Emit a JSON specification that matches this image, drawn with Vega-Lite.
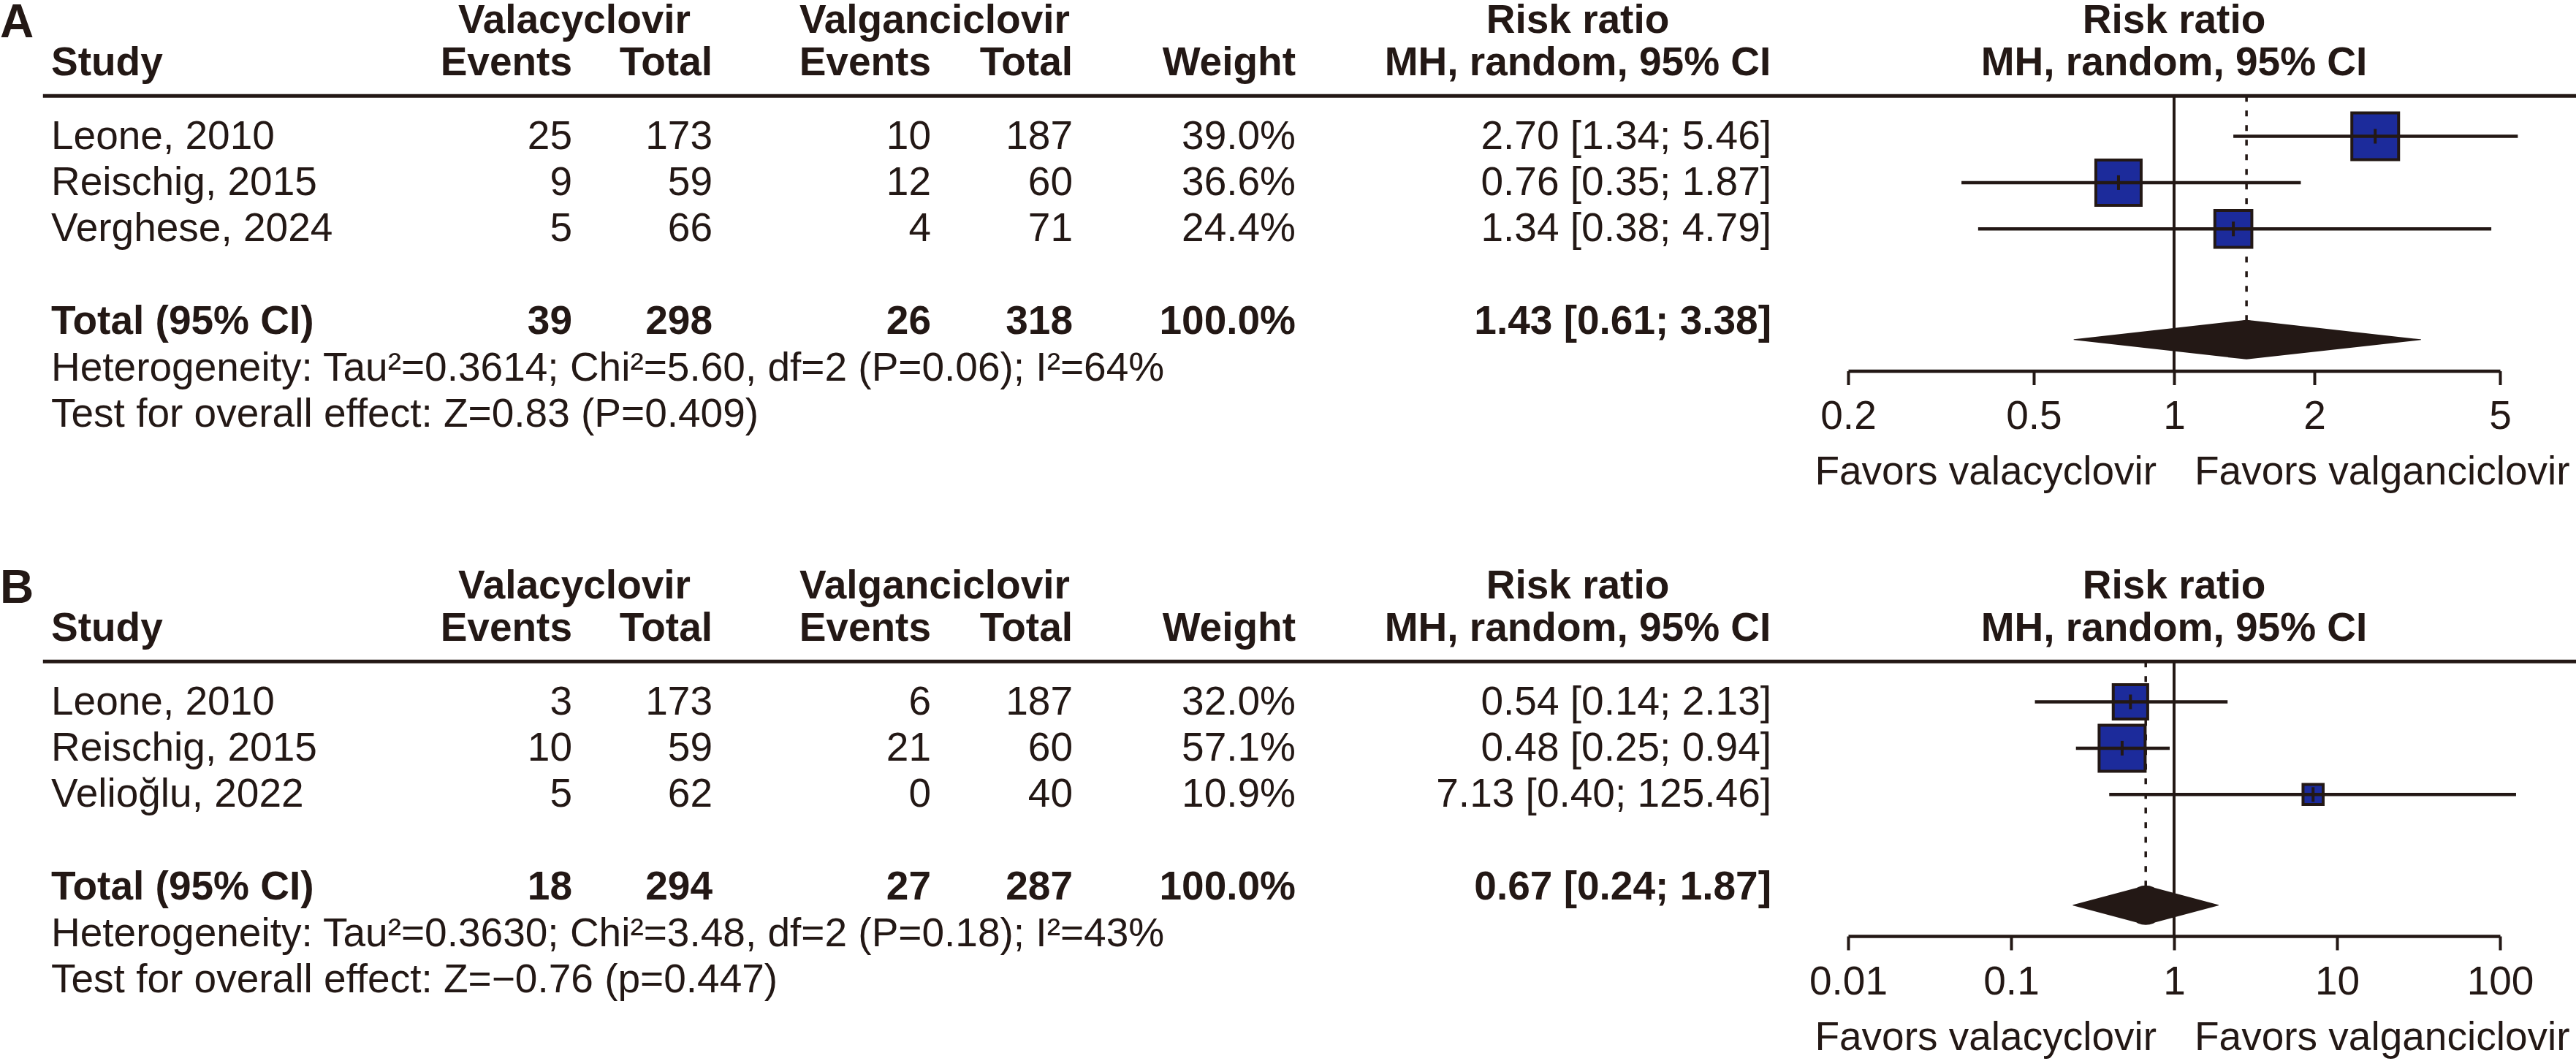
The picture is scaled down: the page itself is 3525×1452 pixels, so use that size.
{
  "$schema": "https://vega.github.io/schema/vega-lite/v6.json",
  "padding": 0,
  "background": "white",
  "spacing": 0,
  "bounds": "flush",
  "config": {
    "view": {"stroke": null},
    "text": {"font": "Liberation Sans", "fontSize": 55, "color": "#231815", "baseline": "middle"},
    "rule": {"color": "#231815"}
  },
  "datasets": {
    "rows": [
      {"panel": "A", "kind": "study", "line": 1, "study": "Leone, 2010", "e1": 25, "n1": 173, "e2": 10, "n2": 187, "weight": 0.390, "rr": 2.70, "lo": 1.34, "hi": 5.46, "ci": "2.70 [1.34; 5.46]"},
      {"panel": "A", "kind": "study", "line": 2, "study": "Reischig, 2015", "e1": 9, "n1": 59, "e2": 12, "n2": 60, "weight": 0.366, "rr": 0.76, "lo": 0.35, "hi": 1.87, "ci": "0.76 [0.35; 1.87]"},
      {"panel": "A", "kind": "study", "line": 3, "study": "Verghese, 2024", "e1": 5, "n1": 66, "e2": 4, "n2": 71, "weight": 0.244, "rr": 1.34, "lo": 0.38, "hi": 4.79, "ci": "1.34 [0.38; 4.79]"},
      {"panel": "A", "kind": "total", "line": 5, "study": "Total (95% CI)", "e1": 39, "n1": 298, "e2": 26, "n2": 318, "weight": 1.0, "rr": 1.43, "lo": 0.61, "hi": 3.38, "ci": "1.43 [0.61; 3.38]"},
      {"panel": "B", "kind": "study", "line": 1, "study": "Leone, 2010", "e1": 3, "n1": 173, "e2": 6, "n2": 187, "weight": 0.320, "rr": 0.54, "lo": 0.14, "hi": 2.13, "ci": "0.54 [0.14; 2.13]"},
      {"panel": "B", "kind": "study", "line": 2, "study": "Reischig, 2015", "e1": 10, "n1": 59, "e2": 21, "n2": 60, "weight": 0.571, "rr": 0.48, "lo": 0.25, "hi": 0.94, "ci": "0.48 [0.25; 0.94]"},
      {"panel": "B", "kind": "study", "line": 3, "study": "Velioğlu, 2022", "e1": 5, "n1": 62, "e2": 0, "n2": 40, "weight": 0.109, "rr": 7.13, "lo": 0.40, "hi": 125.46, "ci": "7.13 [0.40; 125.46]"},
      {"panel": "B", "kind": "total", "line": 5, "study": "Total (95% CI)", "e1": 18, "n1": 294, "e2": 27, "n2": 287, "weight": 1.0, "rr": 0.67, "lo": 0.24, "hi": 1.87, "ci": "0.67 [0.24; 1.87]"}
    ],
    "notes": [
      {"panel": "A", "line": 6, "note": "Heterogeneity: Tau²=0.3614; Chi²=5.60, df=2 (P=0.06); I²=64%"},
      {"panel": "A", "line": 7, "note": "Test for overall effect: Z=0.83 (P=0.409)"},
      {"panel": "B", "line": 6, "note": "Heterogeneity: Tau²=0.3630; Chi²=3.48, df=2 (P=0.18); I²=43%"},
      {"panel": "B", "line": 7, "note": "Test for overall effect: Z=−0.76 (p=0.447)"}
    ]
  },
  "resolve": {"scale": {"x": "independent", "y": "independent", "size": "independent"}},
  "vconcat": [
    {
      "width": 3525,
      "height": 774,
      "data": {"name": "rows"},
      "resolve": {"scale": {"x": "independent"}},
      "layer": [
        {
          "layer": [
            {"data": {"values": [{}]}, "mark": {"type": "text", "text": "A", "align": "left", "fontSize": 64, "fontWeight": "bold"},
             "encoding": {"x": {"datum": 0, "type": "quantitative", "scale": {"domain": [0,1,2,2.5,3,4,4.5,5,6,6.5,7,8], "range": [0,70,783,786,975,1274,1279,1468,1773,2159,2424,3525], "nice": false, "zero": false}, "axis": null},
                          "y": {"datum": -1.43, "type": "quantitative", "scale": {"domain": [-1.9259, 10.2823], "reverse": true, "nice": false, "zero": false}, "axis": null}}},
            {"data": {"values": [{}]}, "mark": {"type": "text", "text": "Valacyclovir", "align": "center", "fontWeight": "bold"},
             "encoding": {"x": {"datum": 2.5, "type": "quantitative", "scale": {"domain": [0,1,2,2.5,3,4,4.5,5,6,6.5,7,8], "range": [0,70,783,786,975,1274,1279,1468,1773,2159,2424,3525], "nice": false, "zero": false}, "axis": null},
                          "y": {"datum": -1.5, "type": "quantitative", "scale": {"domain": [-1.9259, 10.2823], "reverse": true, "nice": false, "zero": false}, "axis": null}}},
            {"data": {"values": [{}]}, "mark": {"type": "text", "text": "Valganciclovir", "align": "center", "fontWeight": "bold"},
             "encoding": {"x": {"datum": 4.5, "type": "quantitative", "scale": {"domain": [0,1,2,2.5,3,4,4.5,5,6,6.5,7,8], "range": [0,70,783,786,975,1274,1279,1468,1773,2159,2424,3525], "nice": false, "zero": false}, "axis": null},
                          "y": {"datum": -1.5, "type": "quantitative", "scale": {"domain": [-1.9259, 10.2823], "reverse": true, "nice": false, "zero": false}, "axis": null}}},
            {"data": {"values": [{}]}, "mark": {"type": "text", "text": "Risk ratio", "align": "center", "fontWeight": "bold"},
             "encoding": {"x": {"datum": 6.5, "type": "quantitative", "scale": {"domain": [0,1,2,2.5,3,4,4.5,5,6,6.5,7,8], "range": [0,70,783,786,975,1274,1279,1468,1773,2159,2424,3525], "nice": false, "zero": false}, "axis": null},
                          "y": {"datum": -1.5, "type": "quantitative", "scale": {"domain": [-1.9259, 10.2823], "reverse": true, "nice": false, "zero": false}, "axis": null}}},
            {"data": {"values": [{}]}, "mark": {"type": "text", "text": "Study", "align": "left", "fontWeight": "bold"},
             "encoding": {"x": {"datum": 1, "type": "quantitative", "scale": {"domain": [0,1,2,2.5,3,4,4.5,5,6,6.5,7,8], "range": [0,70,783,786,975,1274,1279,1468,1773,2159,2424,3525], "nice": false, "zero": false}, "axis": null},
                          "y": {"datum": -0.58, "type": "quantitative", "scale": {"domain": [-1.9259, 10.2823], "reverse": true, "nice": false, "zero": false}, "axis": null}}},
            {"data": {"values": [{}]}, "mark": {"type": "text", "text": "Events", "align": "right", "fontWeight": "bold"},
             "encoding": {"x": {"datum": 2, "type": "quantitative", "scale": {"domain": [0,1,2,2.5,3,4,4.5,5,6,6.5,7,8], "range": [0,70,783,786,975,1274,1279,1468,1773,2159,2424,3525], "nice": false, "zero": false}, "axis": null},
                          "y": {"datum": -0.58, "type": "quantitative", "scale": {"domain": [-1.9259, 10.2823], "reverse": true, "nice": false, "zero": false}, "axis": null}}},
            {"data": {"values": [{}]}, "mark": {"type": "text", "text": "Total", "align": "right", "fontWeight": "bold"},
             "encoding": {"x": {"datum": 3, "type": "quantitative", "scale": {"domain": [0,1,2,2.5,3,4,4.5,5,6,6.5,7,8], "range": [0,70,783,786,975,1274,1279,1468,1773,2159,2424,3525], "nice": false, "zero": false}, "axis": null},
                          "y": {"datum": -0.58, "type": "quantitative", "scale": {"domain": [-1.9259, 10.2823], "reverse": true, "nice": false, "zero": false}, "axis": null}}},
            {"data": {"values": [{}]}, "mark": {"type": "text", "text": "Events", "align": "right", "fontWeight": "bold"},
             "encoding": {"x": {"datum": 4, "type": "quantitative", "scale": {"domain": [0,1,2,2.5,3,4,4.5,5,6,6.5,7,8], "range": [0,70,783,786,975,1274,1279,1468,1773,2159,2424,3525], "nice": false, "zero": false}, "axis": null},
                          "y": {"datum": -0.58, "type": "quantitative", "scale": {"domain": [-1.9259, 10.2823], "reverse": true, "nice": false, "zero": false}, "axis": null}}},
            {"data": {"values": [{}]}, "mark": {"type": "text", "text": "Total", "align": "right", "fontWeight": "bold"},
             "encoding": {"x": {"datum": 5, "type": "quantitative", "scale": {"domain": [0,1,2,2.5,3,4,4.5,5,6,6.5,7,8], "range": [0,70,783,786,975,1274,1279,1468,1773,2159,2424,3525], "nice": false, "zero": false}, "axis": null},
                          "y": {"datum": -0.58, "type": "quantitative", "scale": {"domain": [-1.9259, 10.2823], "reverse": true, "nice": false, "zero": false}, "axis": null}}},
            {"data": {"values": [{}]}, "mark": {"type": "text", "text": "Weight", "align": "right", "fontWeight": "bold"},
             "encoding": {"x": {"datum": 6, "type": "quantitative", "scale": {"domain": [0,1,2,2.5,3,4,4.5,5,6,6.5,7,8], "range": [0,70,783,786,975,1274,1279,1468,1773,2159,2424,3525], "nice": false, "zero": false}, "axis": null},
                          "y": {"datum": -0.58, "type": "quantitative", "scale": {"domain": [-1.9259, 10.2823], "reverse": true, "nice": false, "zero": false}, "axis": null}}},
            {"data": {"values": [{}]}, "mark": {"type": "text", "text": "MH, random, 95% CI", "align": "center", "fontWeight": "bold"},
             "encoding": {"x": {"datum": 6.5, "type": "quantitative", "scale": {"domain": [0,1,2,2.5,3,4,4.5,5,6,6.5,7,8], "range": [0,70,783,786,975,1274,1279,1468,1773,2159,2424,3525], "nice": false, "zero": false}, "axis": null},
                          "y": {"datum": -0.58, "type": "quantitative", "scale": {"domain": [-1.9259, 10.2823], "reverse": true, "nice": false, "zero": false}, "axis": null}}},
            {"data": {"values": [{}]}, "mark": {"type": "rule", "strokeWidth": 5},
             "encoding": {"x": {"datum": 0.84, "type": "quantitative", "scale": {"domain": [0,1,2,2.5,3,4,4.5,5,6,6.5,7,8], "range": [0,70,783,786,975,1274,1279,1468,1773,2159,2424,3525], "nice": false, "zero": false}, "axis": null},
                          "x2": {"datum": 8},
                          "y": {"datum": 0.13, "type": "quantitative", "scale": {"domain": [-1.9259, 10.2823], "reverse": true, "nice": false, "zero": false}, "axis": null}}},
            {"transform": [{"filter": "datum.panel === 'A' && datum.kind === 'study'"}], "mark": {"type": "text", "align": "left"},
             "encoding": {"x": {"datum": 1, "type": "quantitative", "scale": {"domain": [0,1,2,2.5,3,4,4.5,5,6,6.5,7,8], "range": [0,70,783,786,975,1274,1279,1468,1773,2159,2424,3525], "nice": false, "zero": false}, "axis": null},
                          "y": {"field": "line", "type": "quantitative", "scale": {"domain": [-1.9259, 10.2823], "reverse": true, "nice": false, "zero": false}, "axis": null},
                          "text": {"field": "study", "type": "nominal"}}},
            {"transform": [{"filter": "datum.panel === 'A' && datum.kind === 'study'"}], "mark": {"type": "text", "align": "right"},
             "encoding": {"x": {"datum": 2, "type": "quantitative", "scale": {"domain": [0,1,2,2.5,3,4,4.5,5,6,6.5,7,8], "range": [0,70,783,786,975,1274,1279,1468,1773,2159,2424,3525], "nice": false, "zero": false}, "axis": null},
                          "y": {"field": "line", "type": "quantitative", "scale": {"domain": [-1.9259, 10.2823], "reverse": true, "nice": false, "zero": false}, "axis": null},
                          "text": {"field": "e1", "type": "quantitative", "format": "d"}}},
            {"transform": [{"filter": "datum.panel === 'A' && datum.kind === 'study'"}], "mark": {"type": "text", "align": "right"},
             "encoding": {"x": {"datum": 3, "type": "quantitative", "scale": {"domain": [0,1,2,2.5,3,4,4.5,5,6,6.5,7,8], "range": [0,70,783,786,975,1274,1279,1468,1773,2159,2424,3525], "nice": false, "zero": false}, "axis": null},
                          "y": {"field": "line", "type": "quantitative", "scale": {"domain": [-1.9259, 10.2823], "reverse": true, "nice": false, "zero": false}, "axis": null},
                          "text": {"field": "n1", "type": "quantitative", "format": "d"}}},
            {"transform": [{"filter": "datum.panel === 'A' && datum.kind === 'study'"}], "mark": {"type": "text", "align": "right"},
             "encoding": {"x": {"datum": 4, "type": "quantitative", "scale": {"domain": [0,1,2,2.5,3,4,4.5,5,6,6.5,7,8], "range": [0,70,783,786,975,1274,1279,1468,1773,2159,2424,3525], "nice": false, "zero": false}, "axis": null},
                          "y": {"field": "line", "type": "quantitative", "scale": {"domain": [-1.9259, 10.2823], "reverse": true, "nice": false, "zero": false}, "axis": null},
                          "text": {"field": "e2", "type": "quantitative", "format": "d"}}},
            {"transform": [{"filter": "datum.panel === 'A' && datum.kind === 'study'"}], "mark": {"type": "text", "align": "right"},
             "encoding": {"x": {"datum": 5, "type": "quantitative", "scale": {"domain": [0,1,2,2.5,3,4,4.5,5,6,6.5,7,8], "range": [0,70,783,786,975,1274,1279,1468,1773,2159,2424,3525], "nice": false, "zero": false}, "axis": null},
                          "y": {"field": "line", "type": "quantitative", "scale": {"domain": [-1.9259, 10.2823], "reverse": true, "nice": false, "zero": false}, "axis": null},
                          "text": {"field": "n2", "type": "quantitative", "format": "d"}}},
            {"transform": [{"filter": "datum.panel === 'A' && datum.kind === 'study'"}], "mark": {"type": "text", "align": "right"},
             "encoding": {"x": {"datum": 6, "type": "quantitative", "scale": {"domain": [0,1,2,2.5,3,4,4.5,5,6,6.5,7,8], "range": [0,70,783,786,975,1274,1279,1468,1773,2159,2424,3525], "nice": false, "zero": false}, "axis": null},
                          "y": {"field": "line", "type": "quantitative", "scale": {"domain": [-1.9259, 10.2823], "reverse": true, "nice": false, "zero": false}, "axis": null},
                          "text": {"field": "weight", "type": "quantitative", "format": ".1%"}}},
            {"transform": [{"filter": "datum.panel === 'A' && datum.kind === 'study'"}], "mark": {"type": "text", "align": "right"},
             "encoding": {"x": {"datum": 7, "type": "quantitative", "scale": {"domain": [0,1,2,2.5,3,4,4.5,5,6,6.5,7,8], "range": [0,70,783,786,975,1274,1279,1468,1773,2159,2424,3525], "nice": false, "zero": false}, "axis": null},
                          "y": {"field": "line", "type": "quantitative", "scale": {"domain": [-1.9259, 10.2823], "reverse": true, "nice": false, "zero": false}, "axis": null},
                          "text": {"field": "ci", "type": "nominal"}}},
            {"transform": [{"filter": "datum.panel === 'A' && datum.kind === 'total'"}], "mark": {"type": "text", "align": "left", "fontWeight": "bold"},
             "encoding": {"x": {"datum": 1, "type": "quantitative", "scale": {"domain": [0,1,2,2.5,3,4,4.5,5,6,6.5,7,8], "range": [0,70,783,786,975,1274,1279,1468,1773,2159,2424,3525], "nice": false, "zero": false}, "axis": null},
                          "y": {"field": "line", "type": "quantitative", "scale": {"domain": [-1.9259, 10.2823], "reverse": true, "nice": false, "zero": false}, "axis": null},
                          "text": {"field": "study", "type": "nominal"}}},
            {"transform": [{"filter": "datum.panel === 'A' && datum.kind === 'total'"}], "mark": {"type": "text", "align": "right", "fontWeight": "bold"},
             "encoding": {"x": {"datum": 2, "type": "quantitative", "scale": {"domain": [0,1,2,2.5,3,4,4.5,5,6,6.5,7,8], "range": [0,70,783,786,975,1274,1279,1468,1773,2159,2424,3525], "nice": false, "zero": false}, "axis": null},
                          "y": {"field": "line", "type": "quantitative", "scale": {"domain": [-1.9259, 10.2823], "reverse": true, "nice": false, "zero": false}, "axis": null},
                          "text": {"field": "e1", "type": "quantitative", "format": "d"}}},
            {"transform": [{"filter": "datum.panel === 'A' && datum.kind === 'total'"}], "mark": {"type": "text", "align": "right", "fontWeight": "bold"},
             "encoding": {"x": {"datum": 3, "type": "quantitative", "scale": {"domain": [0,1,2,2.5,3,4,4.5,5,6,6.5,7,8], "range": [0,70,783,786,975,1274,1279,1468,1773,2159,2424,3525], "nice": false, "zero": false}, "axis": null},
                          "y": {"field": "line", "type": "quantitative", "scale": {"domain": [-1.9259, 10.2823], "reverse": true, "nice": false, "zero": false}, "axis": null},
                          "text": {"field": "n1", "type": "quantitative", "format": "d"}}},
            {"transform": [{"filter": "datum.panel === 'A' && datum.kind === 'total'"}], "mark": {"type": "text", "align": "right", "fontWeight": "bold"},
             "encoding": {"x": {"datum": 4, "type": "quantitative", "scale": {"domain": [0,1,2,2.5,3,4,4.5,5,6,6.5,7,8], "range": [0,70,783,786,975,1274,1279,1468,1773,2159,2424,3525], "nice": false, "zero": false}, "axis": null},
                          "y": {"field": "line", "type": "quantitative", "scale": {"domain": [-1.9259, 10.2823], "reverse": true, "nice": false, "zero": false}, "axis": null},
                          "text": {"field": "e2", "type": "quantitative", "format": "d"}}},
            {"transform": [{"filter": "datum.panel === 'A' && datum.kind === 'total'"}], "mark": {"type": "text", "align": "right", "fontWeight": "bold"},
             "encoding": {"x": {"datum": 5, "type": "quantitative", "scale": {"domain": [0,1,2,2.5,3,4,4.5,5,6,6.5,7,8], "range": [0,70,783,786,975,1274,1279,1468,1773,2159,2424,3525], "nice": false, "zero": false}, "axis": null},
                          "y": {"field": "line", "type": "quantitative", "scale": {"domain": [-1.9259, 10.2823], "reverse": true, "nice": false, "zero": false}, "axis": null},
                          "text": {"field": "n2", "type": "quantitative", "format": "d"}}},
            {"transform": [{"filter": "datum.panel === 'A' && datum.kind === 'total'"}], "mark": {"type": "text", "align": "right", "fontWeight": "bold"},
             "encoding": {"x": {"datum": 6, "type": "quantitative", "scale": {"domain": [0,1,2,2.5,3,4,4.5,5,6,6.5,7,8], "range": [0,70,783,786,975,1274,1279,1468,1773,2159,2424,3525], "nice": false, "zero": false}, "axis": null},
                          "y": {"field": "line", "type": "quantitative", "scale": {"domain": [-1.9259, 10.2823], "reverse": true, "nice": false, "zero": false}, "axis": null},
                          "text": {"field": "weight", "type": "quantitative", "format": ".1%"}}},
            {"transform": [{"filter": "datum.panel === 'A' && datum.kind === 'total'"}], "mark": {"type": "text", "align": "right", "fontWeight": "bold"},
             "encoding": {"x": {"datum": 7, "type": "quantitative", "scale": {"domain": [0,1,2,2.5,3,4,4.5,5,6,6.5,7,8], "range": [0,70,783,786,975,1274,1279,1468,1773,2159,2424,3525], "nice": false, "zero": false}, "axis": null},
                          "y": {"field": "line", "type": "quantitative", "scale": {"domain": [-1.9259, 10.2823], "reverse": true, "nice": false, "zero": false}, "axis": null},
                          "text": {"field": "ci", "type": "nominal"}}},
            {"data": {"name": "notes"}, "transform": [{"filter": "datum.panel === 'A'"}], "mark": {"type": "text", "align": "left"},
             "encoding": {"x": {"datum": 1, "type": "quantitative", "scale": {"domain": [0,1,2,2.5,3,4,4.5,5,6,6.5,7,8], "range": [0,70,783,786,975,1274,1279,1468,1773,2159,2424,3525], "nice": false, "zero": false}, "axis": null},
                          "y": {"field": "line", "type": "quantitative", "scale": {"domain": [-1.9259, 10.2823], "reverse": true, "nice": false, "zero": false}, "axis": null},
                          "text": {"field": "note", "type": "nominal"}}}
          ]
        },
        {
          "layer": [
            {"data": {"values": [{}]}, "mark": {"type": "text", "text": "Risk ratio", "align": "center", "fontWeight": "bold"},
             "encoding": {"x": {"datum": 1, "type": "quantitative", "scale": {"type": "log", "domain": [0.2, 5], "range": [2529, 3421], "nice": false}},
                          "y": {"datum": -1.5, "type": "quantitative", "scale": {"domain": [-1.9259, 10.2823], "reverse": true, "nice": false, "zero": false}, "axis": null}}},
            {"data": {"values": [{}]}, "mark": {"type": "text", "text": "MH, random, 95% CI", "align": "center", "fontWeight": "bold"},
             "encoding": {"x": {"datum": 1, "type": "quantitative", "scale": {"type": "log", "domain": [0.2, 5], "range": [2529, 3421], "nice": false}},
                          "y": {"datum": -0.58, "type": "quantitative", "scale": {"domain": [-1.9259, 10.2823], "reverse": true, "nice": false, "zero": false}, "axis": null}}},
            {"data": {"values": [{}]}, "mark": {"type": "rule", "strokeWidth": 4},
             "encoding": {"x": {"datum": 1, "type": "quantitative", "scale": {"type": "log", "domain": [0.2, 5], "range": [2529, 3421], "nice": false}},
                          "y": {"datum": 0.13, "type": "quantitative", "scale": {"domain": [-1.9259, 10.2823], "reverse": true, "nice": false, "zero": false}, "axis": null},
                          "y2": {"datum": 6.06}}},
            {"transform": [{"filter": "datum.panel === 'A' && datum.kind === 'total'"}], "mark": {"type": "rule", "strokeWidth": 3.5, "strokeDash": [8, 12]},
             "encoding": {"x": {"field": "rr", "type": "quantitative", "scale": {"type": "log", "domain": [0.2, 5], "range": [2529, 3421], "nice": false}},
                          "y": {"datum": 0.13, "type": "quantitative", "scale": {"domain": [-1.9259, 10.2823], "reverse": true, "nice": false, "zero": false}, "axis": null},
                          "y2": {"datum": 4.97}}},
            {"transform": [{"filter": "datum.panel === 'A' && datum.kind === 'study'"}], "mark": {"type": "point", "shape": "square", "filled": true, "fill": "#1c2b9b", "stroke": "#231815", "strokeWidth": 4, "opacity": 1},
             "encoding": {"x": {"field": "rr", "type": "quantitative", "scale": {"type": "log", "domain": [0.2, 5], "range": [2529, 3421], "nice": false}},
                          "y": {"field": "line", "type": "quantitative", "scale": {"domain": [-1.9259, 10.2823], "reverse": true, "nice": false, "zero": false}, "axis": null},
                          "size": {"field": "weight", "type": "quantitative", "scale": {"domain": [0, 0.39], "range": [0, 4096], "zero": true}, "legend": null}}},
            {"transform": [{"filter": "datum.panel === 'A' && datum.kind === 'study'"}], "mark": {"type": "rule", "strokeWidth": 4.5},
             "encoding": {"x": {"field": "lo", "type": "quantitative", "scale": {"type": "log", "domain": [0.2, 5], "range": [2529, 3421], "nice": false},
                                "axis": {"values": [0.2, 0.5, 1, 2, 5], "format": "~g", "orient": "bottom", "offset": -267.5, "title": null, "grid": false,
                                         "domainColor": "#231815", "domainWidth": 4.5, "tickColor": "#231815", "tickWidth": 4, "tickSize": 19,
                                         "labelFont": "Liberation Sans", "labelFontSize": 55, "labelColor": "#231815", "labelPadding": 17,
                                         "labelFlush": false, "labelOverlap": false, "labelBound": false}},
                          "x2": {"field": "hi"},
                          "y": {"field": "line", "type": "quantitative", "scale": {"domain": [-1.9259, 10.2823], "reverse": true, "nice": false, "zero": false}, "axis": null}}},
            {"transform": [{"filter": "datum.panel === 'A' && datum.kind === 'study'"}], "mark": {"type": "point", "shape": "M0,-1L0,1", "size": 400, "strokeWidth": 4, "filled": false, "color": "#231815", "opacity": 1},
             "encoding": {"x": {"field": "rr", "type": "quantitative", "scale": {"type": "log", "domain": [0.2, 5], "range": [2529, 3421], "nice": false}},
                          "y": {"field": "line", "type": "quantitative", "scale": {"domain": [-1.9259, 10.2823], "reverse": true, "nice": false, "zero": false}, "axis": null}}},
            {"transform": [{"filter": "datum.panel === 'A' && datum.kind === 'total'"}, {"fold": ["lo", "rr", "hi"], "as": ["k", "v"]}],
             "mark": {"type": "trail", "color": "#231815", "opacity": 1},
             "encoding": {"x": {"field": "v", "type": "quantitative", "scale": {"type": "log", "domain": [0.2, 5], "range": [2529, 3421], "nice": false}},
                          "y": {"datum": 5.39, "type": "quantitative", "scale": {"domain": [-1.9259, 10.2823], "reverse": true, "nice": false, "zero": false}, "axis": null},
                          "order": {"field": "v", "type": "quantitative"},
                          "size": {"condition": {"test": "datum.k === 'rr'", "value": 54}, "value": 0}}},
            {"data": {"values": [{}]}, "mark": {"type": "text", "text": "Favors valacyclovir", "align": "right", "dx": -24},
             "encoding": {"x": {"datum": 1, "type": "quantitative", "scale": {"type": "log", "domain": [0.2, 5], "range": [2529, 3421], "nice": false}},
                          "y": {"datum": 8.25, "type": "quantitative", "scale": {"domain": [-1.9259, 10.2823], "reverse": true, "nice": false, "zero": false}, "axis": null}}},
            {"data": {"values": [{}]}, "mark": {"type": "text", "text": "Favors valganciclovir", "align": "left", "dx": 28},
             "encoding": {"x": {"datum": 1, "type": "quantitative", "scale": {"type": "log", "domain": [0.2, 5], "range": [2529, 3421], "nice": false}},
                          "y": {"datum": 8.25, "type": "quantitative", "scale": {"domain": [-1.9259, 10.2823], "reverse": true, "nice": false, "zero": false}, "axis": null}}}
          ]
        }
      ]
    },
    {
      "width": 3525,
      "height": 678,
      "data": {"name": "rows"},
      "resolve": {"scale": {"x": "independent"}},
      "layer": [
        {
          "layer": [
            {"data": {"values": [{}]}, "mark": {"type": "text", "text": "B", "align": "left", "fontSize": 64, "fontWeight": "bold"},
             "encoding": {"x": {"datum": 0, "type": "quantitative", "scale": {"domain": [0,1,2,2.5,3,4,4.5,5,6,6.5,7,8], "range": [0,70,783,786,975,1274,1279,1468,1773,2159,2424,3525], "nice": false, "zero": false}, "axis": null},
                          "y": {"datum": -1.43, "type": "quantitative", "scale": {"domain": [-1.9259, 8.7681], "reverse": true, "nice": false, "zero": false}, "axis": null}}},
            {"data": {"values": [{}]}, "mark": {"type": "text", "text": "Valacyclovir", "align": "center", "fontWeight": "bold"},
             "encoding": {"x": {"datum": 2.5, "type": "quantitative", "scale": {"domain": [0,1,2,2.5,3,4,4.5,5,6,6.5,7,8], "range": [0,70,783,786,975,1274,1279,1468,1773,2159,2424,3525], "nice": false, "zero": false}, "axis": null},
                          "y": {"datum": -1.5, "type": "quantitative", "scale": {"domain": [-1.9259, 8.7681], "reverse": true, "nice": false, "zero": false}, "axis": null}}},
            {"data": {"values": [{}]}, "mark": {"type": "text", "text": "Valganciclovir", "align": "center", "fontWeight": "bold"},
             "encoding": {"x": {"datum": 4.5, "type": "quantitative", "scale": {"domain": [0,1,2,2.5,3,4,4.5,5,6,6.5,7,8], "range": [0,70,783,786,975,1274,1279,1468,1773,2159,2424,3525], "nice": false, "zero": false}, "axis": null},
                          "y": {"datum": -1.5, "type": "quantitative", "scale": {"domain": [-1.9259, 8.7681], "reverse": true, "nice": false, "zero": false}, "axis": null}}},
            {"data": {"values": [{}]}, "mark": {"type": "text", "text": "Risk ratio", "align": "center", "fontWeight": "bold"},
             "encoding": {"x": {"datum": 6.5, "type": "quantitative", "scale": {"domain": [0,1,2,2.5,3,4,4.5,5,6,6.5,7,8], "range": [0,70,783,786,975,1274,1279,1468,1773,2159,2424,3525], "nice": false, "zero": false}, "axis": null},
                          "y": {"datum": -1.5, "type": "quantitative", "scale": {"domain": [-1.9259, 8.7681], "reverse": true, "nice": false, "zero": false}, "axis": null}}},
            {"data": {"values": [{}]}, "mark": {"type": "text", "text": "Study", "align": "left", "fontWeight": "bold"},
             "encoding": {"x": {"datum": 1, "type": "quantitative", "scale": {"domain": [0,1,2,2.5,3,4,4.5,5,6,6.5,7,8], "range": [0,70,783,786,975,1274,1279,1468,1773,2159,2424,3525], "nice": false, "zero": false}, "axis": null},
                          "y": {"datum": -0.58, "type": "quantitative", "scale": {"domain": [-1.9259, 8.7681], "reverse": true, "nice": false, "zero": false}, "axis": null}}},
            {"data": {"values": [{}]}, "mark": {"type": "text", "text": "Events", "align": "right", "fontWeight": "bold"},
             "encoding": {"x": {"datum": 2, "type": "quantitative", "scale": {"domain": [0,1,2,2.5,3,4,4.5,5,6,6.5,7,8], "range": [0,70,783,786,975,1274,1279,1468,1773,2159,2424,3525], "nice": false, "zero": false}, "axis": null},
                          "y": {"datum": -0.58, "type": "quantitative", "scale": {"domain": [-1.9259, 8.7681], "reverse": true, "nice": false, "zero": false}, "axis": null}}},
            {"data": {"values": [{}]}, "mark": {"type": "text", "text": "Total", "align": "right", "fontWeight": "bold"},
             "encoding": {"x": {"datum": 3, "type": "quantitative", "scale": {"domain": [0,1,2,2.5,3,4,4.5,5,6,6.5,7,8], "range": [0,70,783,786,975,1274,1279,1468,1773,2159,2424,3525], "nice": false, "zero": false}, "axis": null},
                          "y": {"datum": -0.58, "type": "quantitative", "scale": {"domain": [-1.9259, 8.7681], "reverse": true, "nice": false, "zero": false}, "axis": null}}},
            {"data": {"values": [{}]}, "mark": {"type": "text", "text": "Events", "align": "right", "fontWeight": "bold"},
             "encoding": {"x": {"datum": 4, "type": "quantitative", "scale": {"domain": [0,1,2,2.5,3,4,4.5,5,6,6.5,7,8], "range": [0,70,783,786,975,1274,1279,1468,1773,2159,2424,3525], "nice": false, "zero": false}, "axis": null},
                          "y": {"datum": -0.58, "type": "quantitative", "scale": {"domain": [-1.9259, 8.7681], "reverse": true, "nice": false, "zero": false}, "axis": null}}},
            {"data": {"values": [{}]}, "mark": {"type": "text", "text": "Total", "align": "right", "fontWeight": "bold"},
             "encoding": {"x": {"datum": 5, "type": "quantitative", "scale": {"domain": [0,1,2,2.5,3,4,4.5,5,6,6.5,7,8], "range": [0,70,783,786,975,1274,1279,1468,1773,2159,2424,3525], "nice": false, "zero": false}, "axis": null},
                          "y": {"datum": -0.58, "type": "quantitative", "scale": {"domain": [-1.9259, 8.7681], "reverse": true, "nice": false, "zero": false}, "axis": null}}},
            {"data": {"values": [{}]}, "mark": {"type": "text", "text": "Weight", "align": "right", "fontWeight": "bold"},
             "encoding": {"x": {"datum": 6, "type": "quantitative", "scale": {"domain": [0,1,2,2.5,3,4,4.5,5,6,6.5,7,8], "range": [0,70,783,786,975,1274,1279,1468,1773,2159,2424,3525], "nice": false, "zero": false}, "axis": null},
                          "y": {"datum": -0.58, "type": "quantitative", "scale": {"domain": [-1.9259, 8.7681], "reverse": true, "nice": false, "zero": false}, "axis": null}}},
            {"data": {"values": [{}]}, "mark": {"type": "text", "text": "MH, random, 95% CI", "align": "center", "fontWeight": "bold"},
             "encoding": {"x": {"datum": 6.5, "type": "quantitative", "scale": {"domain": [0,1,2,2.5,3,4,4.5,5,6,6.5,7,8], "range": [0,70,783,786,975,1274,1279,1468,1773,2159,2424,3525], "nice": false, "zero": false}, "axis": null},
                          "y": {"datum": -0.58, "type": "quantitative", "scale": {"domain": [-1.9259, 8.7681], "reverse": true, "nice": false, "zero": false}, "axis": null}}},
            {"data": {"values": [{}]}, "mark": {"type": "rule", "strokeWidth": 5},
             "encoding": {"x": {"datum": 0.84, "type": "quantitative", "scale": {"domain": [0,1,2,2.5,3,4,4.5,5,6,6.5,7,8], "range": [0,70,783,786,975,1274,1279,1468,1773,2159,2424,3525], "nice": false, "zero": false}, "axis": null},
                          "x2": {"datum": 8},
                          "y": {"datum": 0.13, "type": "quantitative", "scale": {"domain": [-1.9259, 8.7681], "reverse": true, "nice": false, "zero": false}, "axis": null}}},
            {"transform": [{"filter": "datum.panel === 'B' && datum.kind === 'study'"}], "mark": {"type": "text", "align": "left"},
             "encoding": {"x": {"datum": 1, "type": "quantitative", "scale": {"domain": [0,1,2,2.5,3,4,4.5,5,6,6.5,7,8], "range": [0,70,783,786,975,1274,1279,1468,1773,2159,2424,3525], "nice": false, "zero": false}, "axis": null},
                          "y": {"field": "line", "type": "quantitative", "scale": {"domain": [-1.9259, 8.7681], "reverse": true, "nice": false, "zero": false}, "axis": null},
                          "text": {"field": "study", "type": "nominal"}}},
            {"transform": [{"filter": "datum.panel === 'B' && datum.kind === 'study'"}], "mark": {"type": "text", "align": "right"},
             "encoding": {"x": {"datum": 2, "type": "quantitative", "scale": {"domain": [0,1,2,2.5,3,4,4.5,5,6,6.5,7,8], "range": [0,70,783,786,975,1274,1279,1468,1773,2159,2424,3525], "nice": false, "zero": false}, "axis": null},
                          "y": {"field": "line", "type": "quantitative", "scale": {"domain": [-1.9259, 8.7681], "reverse": true, "nice": false, "zero": false}, "axis": null},
                          "text": {"field": "e1", "type": "quantitative", "format": "d"}}},
            {"transform": [{"filter": "datum.panel === 'B' && datum.kind === 'study'"}], "mark": {"type": "text", "align": "right"},
             "encoding": {"x": {"datum": 3, "type": "quantitative", "scale": {"domain": [0,1,2,2.5,3,4,4.5,5,6,6.5,7,8], "range": [0,70,783,786,975,1274,1279,1468,1773,2159,2424,3525], "nice": false, "zero": false}, "axis": null},
                          "y": {"field": "line", "type": "quantitative", "scale": {"domain": [-1.9259, 8.7681], "reverse": true, "nice": false, "zero": false}, "axis": null},
                          "text": {"field": "n1", "type": "quantitative", "format": "d"}}},
            {"transform": [{"filter": "datum.panel === 'B' && datum.kind === 'study'"}], "mark": {"type": "text", "align": "right"},
             "encoding": {"x": {"datum": 4, "type": "quantitative", "scale": {"domain": [0,1,2,2.5,3,4,4.5,5,6,6.5,7,8], "range": [0,70,783,786,975,1274,1279,1468,1773,2159,2424,3525], "nice": false, "zero": false}, "axis": null},
                          "y": {"field": "line", "type": "quantitative", "scale": {"domain": [-1.9259, 8.7681], "reverse": true, "nice": false, "zero": false}, "axis": null},
                          "text": {"field": "e2", "type": "quantitative", "format": "d"}}},
            {"transform": [{"filter": "datum.panel === 'B' && datum.kind === 'study'"}], "mark": {"type": "text", "align": "right"},
             "encoding": {"x": {"datum": 5, "type": "quantitative", "scale": {"domain": [0,1,2,2.5,3,4,4.5,5,6,6.5,7,8], "range": [0,70,783,786,975,1274,1279,1468,1773,2159,2424,3525], "nice": false, "zero": false}, "axis": null},
                          "y": {"field": "line", "type": "quantitative", "scale": {"domain": [-1.9259, 8.7681], "reverse": true, "nice": false, "zero": false}, "axis": null},
                          "text": {"field": "n2", "type": "quantitative", "format": "d"}}},
            {"transform": [{"filter": "datum.panel === 'B' && datum.kind === 'study'"}], "mark": {"type": "text", "align": "right"},
             "encoding": {"x": {"datum": 6, "type": "quantitative", "scale": {"domain": [0,1,2,2.5,3,4,4.5,5,6,6.5,7,8], "range": [0,70,783,786,975,1274,1279,1468,1773,2159,2424,3525], "nice": false, "zero": false}, "axis": null},
                          "y": {"field": "line", "type": "quantitative", "scale": {"domain": [-1.9259, 8.7681], "reverse": true, "nice": false, "zero": false}, "axis": null},
                          "text": {"field": "weight", "type": "quantitative", "format": ".1%"}}},
            {"transform": [{"filter": "datum.panel === 'B' && datum.kind === 'study'"}], "mark": {"type": "text", "align": "right"},
             "encoding": {"x": {"datum": 7, "type": "quantitative", "scale": {"domain": [0,1,2,2.5,3,4,4.5,5,6,6.5,7,8], "range": [0,70,783,786,975,1274,1279,1468,1773,2159,2424,3525], "nice": false, "zero": false}, "axis": null},
                          "y": {"field": "line", "type": "quantitative", "scale": {"domain": [-1.9259, 8.7681], "reverse": true, "nice": false, "zero": false}, "axis": null},
                          "text": {"field": "ci", "type": "nominal"}}},
            {"transform": [{"filter": "datum.panel === 'B' && datum.kind === 'total'"}], "mark": {"type": "text", "align": "left", "fontWeight": "bold"},
             "encoding": {"x": {"datum": 1, "type": "quantitative", "scale": {"domain": [0,1,2,2.5,3,4,4.5,5,6,6.5,7,8], "range": [0,70,783,786,975,1274,1279,1468,1773,2159,2424,3525], "nice": false, "zero": false}, "axis": null},
                          "y": {"field": "line", "type": "quantitative", "scale": {"domain": [-1.9259, 8.7681], "reverse": true, "nice": false, "zero": false}, "axis": null},
                          "text": {"field": "study", "type": "nominal"}}},
            {"transform": [{"filter": "datum.panel === 'B' && datum.kind === 'total'"}], "mark": {"type": "text", "align": "right", "fontWeight": "bold"},
             "encoding": {"x": {"datum": 2, "type": "quantitative", "scale": {"domain": [0,1,2,2.5,3,4,4.5,5,6,6.5,7,8], "range": [0,70,783,786,975,1274,1279,1468,1773,2159,2424,3525], "nice": false, "zero": false}, "axis": null},
                          "y": {"field": "line", "type": "quantitative", "scale": {"domain": [-1.9259, 8.7681], "reverse": true, "nice": false, "zero": false}, "axis": null},
                          "text": {"field": "e1", "type": "quantitative", "format": "d"}}},
            {"transform": [{"filter": "datum.panel === 'B' && datum.kind === 'total'"}], "mark": {"type": "text", "align": "right", "fontWeight": "bold"},
             "encoding": {"x": {"datum": 3, "type": "quantitative", "scale": {"domain": [0,1,2,2.5,3,4,4.5,5,6,6.5,7,8], "range": [0,70,783,786,975,1274,1279,1468,1773,2159,2424,3525], "nice": false, "zero": false}, "axis": null},
                          "y": {"field": "line", "type": "quantitative", "scale": {"domain": [-1.9259, 8.7681], "reverse": true, "nice": false, "zero": false}, "axis": null},
                          "text": {"field": "n1", "type": "quantitative", "format": "d"}}},
            {"transform": [{"filter": "datum.panel === 'B' && datum.kind === 'total'"}], "mark": {"type": "text", "align": "right", "fontWeight": "bold"},
             "encoding": {"x": {"datum": 4, "type": "quantitative", "scale": {"domain": [0,1,2,2.5,3,4,4.5,5,6,6.5,7,8], "range": [0,70,783,786,975,1274,1279,1468,1773,2159,2424,3525], "nice": false, "zero": false}, "axis": null},
                          "y": {"field": "line", "type": "quantitative", "scale": {"domain": [-1.9259, 8.7681], "reverse": true, "nice": false, "zero": false}, "axis": null},
                          "text": {"field": "e2", "type": "quantitative", "format": "d"}}},
            {"transform": [{"filter": "datum.panel === 'B' && datum.kind === 'total'"}], "mark": {"type": "text", "align": "right", "fontWeight": "bold"},
             "encoding": {"x": {"datum": 5, "type": "quantitative", "scale": {"domain": [0,1,2,2.5,3,4,4.5,5,6,6.5,7,8], "range": [0,70,783,786,975,1274,1279,1468,1773,2159,2424,3525], "nice": false, "zero": false}, "axis": null},
                          "y": {"field": "line", "type": "quantitative", "scale": {"domain": [-1.9259, 8.7681], "reverse": true, "nice": false, "zero": false}, "axis": null},
                          "text": {"field": "n2", "type": "quantitative", "format": "d"}}},
            {"transform": [{"filter": "datum.panel === 'B' && datum.kind === 'total'"}], "mark": {"type": "text", "align": "right", "fontWeight": "bold"},
             "encoding": {"x": {"datum": 6, "type": "quantitative", "scale": {"domain": [0,1,2,2.5,3,4,4.5,5,6,6.5,7,8], "range": [0,70,783,786,975,1274,1279,1468,1773,2159,2424,3525], "nice": false, "zero": false}, "axis": null},
                          "y": {"field": "line", "type": "quantitative", "scale": {"domain": [-1.9259, 8.7681], "reverse": true, "nice": false, "zero": false}, "axis": null},
                          "text": {"field": "weight", "type": "quantitative", "format": ".1%"}}},
            {"transform": [{"filter": "datum.panel === 'B' && datum.kind === 'total'"}], "mark": {"type": "text", "align": "right", "fontWeight": "bold"},
             "encoding": {"x": {"datum": 7, "type": "quantitative", "scale": {"domain": [0,1,2,2.5,3,4,4.5,5,6,6.5,7,8], "range": [0,70,783,786,975,1274,1279,1468,1773,2159,2424,3525], "nice": false, "zero": false}, "axis": null},
                          "y": {"field": "line", "type": "quantitative", "scale": {"domain": [-1.9259, 8.7681], "reverse": true, "nice": false, "zero": false}, "axis": null},
                          "text": {"field": "ci", "type": "nominal"}}},
            {"data": {"name": "notes"}, "transform": [{"filter": "datum.panel === 'B'"}], "mark": {"type": "text", "align": "left"},
             "encoding": {"x": {"datum": 1, "type": "quantitative", "scale": {"domain": [0,1,2,2.5,3,4,4.5,5,6,6.5,7,8], "range": [0,70,783,786,975,1274,1279,1468,1773,2159,2424,3525], "nice": false, "zero": false}, "axis": null},
                          "y": {"field": "line", "type": "quantitative", "scale": {"domain": [-1.9259, 8.7681], "reverse": true, "nice": false, "zero": false}, "axis": null},
                          "text": {"field": "note", "type": "nominal"}}}
          ]
        },
        {
          "layer": [
            {"data": {"values": [{}]}, "mark": {"type": "text", "text": "Risk ratio", "align": "center", "fontWeight": "bold"},
             "encoding": {"x": {"datum": 1, "type": "quantitative", "scale": {"type": "log", "domain": [0.01, 100], "range": [2529, 3421], "nice": false}},
                          "y": {"datum": -1.5, "type": "quantitative", "scale": {"domain": [-1.9259, 8.7681], "reverse": true, "nice": false, "zero": false}, "axis": null}}},
            {"data": {"values": [{}]}, "mark": {"type": "text", "text": "MH, random, 95% CI", "align": "center", "fontWeight": "bold"},
             "encoding": {"x": {"datum": 1, "type": "quantitative", "scale": {"type": "log", "domain": [0.01, 100], "range": [2529, 3421], "nice": false}},
                          "y": {"datum": -0.58, "type": "quantitative", "scale": {"domain": [-1.9259, 8.7681], "reverse": true, "nice": false, "zero": false}, "axis": null}}},
            {"data": {"values": [{}]}, "mark": {"type": "rule", "strokeWidth": 4},
             "encoding": {"x": {"datum": 1, "type": "quantitative", "scale": {"type": "log", "domain": [0.01, 100], "range": [2529, 3421], "nice": false}},
                          "y": {"datum": 0.13, "type": "quantitative", "scale": {"domain": [-1.9259, 8.7681], "reverse": true, "nice": false, "zero": false}, "axis": null},
                          "y2": {"datum": 6.06}}},
            {"transform": [{"filter": "datum.panel === 'B' && datum.kind === 'total'"}], "mark": {"type": "rule", "strokeWidth": 3.5, "strokeDash": [8, 12]},
             "encoding": {"x": {"field": "rr", "type": "quantitative", "scale": {"type": "log", "domain": [0.01, 100], "range": [2529, 3421], "nice": false}},
                          "y": {"datum": 0.13, "type": "quantitative", "scale": {"domain": [-1.9259, 8.7681], "reverse": true, "nice": false, "zero": false}, "axis": null},
                          "y2": {"datum": 4.97}}},
            {"transform": [{"filter": "datum.panel === 'B' && datum.kind === 'study'"}], "mark": {"type": "point", "shape": "square", "filled": true, "fill": "#1c2b9b", "stroke": "#231815", "strokeWidth": 4, "opacity": 1},
             "encoding": {"x": {"field": "rr", "type": "quantitative", "scale": {"type": "log", "domain": [0.01, 100], "range": [2529, 3421], "nice": false}},
                          "y": {"field": "line", "type": "quantitative", "scale": {"domain": [-1.9259, 8.7681], "reverse": true, "nice": false, "zero": false}, "axis": null},
                          "size": {"field": "weight", "type": "quantitative", "scale": {"domain": [0, 0.571], "range": [0, 3969], "zero": true}, "legend": null}}},
            {"transform": [{"filter": "datum.panel === 'B' && datum.kind === 'study'"}], "mark": {"type": "rule", "strokeWidth": 4.5},
             "encoding": {"x": {"field": "lo", "type": "quantitative", "scale": {"type": "log", "domain": [0.01, 100], "range": [2529, 3421], "nice": false},
                                "axis": {"values": [0.01, 0.1, 1, 10, 100], "format": "~g", "orient": "bottom", "offset": -172, "title": null, "grid": false,
                                         "domainColor": "#231815", "domainWidth": 4.5, "tickColor": "#231815", "tickWidth": 4, "tickSize": 19,
                                         "labelFont": "Liberation Sans", "labelFontSize": 55, "labelColor": "#231815", "labelPadding": 17,
                                         "labelFlush": false, "labelOverlap": false, "labelBound": false}},
                          "x2": {"field": "hi"},
                          "y": {"field": "line", "type": "quantitative", "scale": {"domain": [-1.9259, 8.7681], "reverse": true, "nice": false, "zero": false}, "axis": null}}},
            {"transform": [{"filter": "datum.panel === 'B' && datum.kind === 'study'"}], "mark": {"type": "point", "shape": "M0,-1L0,1", "size": 400, "strokeWidth": 4, "filled": false, "color": "#231815", "opacity": 1},
             "encoding": {"x": {"field": "rr", "type": "quantitative", "scale": {"type": "log", "domain": [0.01, 100], "range": [2529, 3421], "nice": false}},
                          "y": {"field": "line", "type": "quantitative", "scale": {"domain": [-1.9259, 8.7681], "reverse": true, "nice": false, "zero": false}, "axis": null}}},
            {"transform": [{"filter": "datum.panel === 'B' && datum.kind === 'total'"}, {"fold": ["lo", "rr", "hi"], "as": ["k", "v"]}],
             "mark": {"type": "trail", "color": "#231815", "opacity": 1},
             "encoding": {"x": {"field": "v", "type": "quantitative", "scale": {"type": "log", "domain": [0.01, 100], "range": [2529, 3421], "nice": false}},
                          "y": {"datum": 5.39, "type": "quantitative", "scale": {"domain": [-1.9259, 8.7681], "reverse": true, "nice": false, "zero": false}, "axis": null},
                          "order": {"field": "v", "type": "quantitative"},
                          "size": {"condition": {"test": "datum.k === 'rr'", "value": 54}, "value": 0}}},
            {"data": {"values": [{}]}, "mark": {"type": "text", "text": "Favors valacyclovir", "align": "right", "dx": -24},
             "encoding": {"x": {"datum": 1, "type": "quantitative", "scale": {"type": "log", "domain": [0.01, 100], "range": [2529, 3421], "nice": false}},
                          "y": {"datum": 8.25, "type": "quantitative", "scale": {"domain": [-1.9259, 8.7681], "reverse": true, "nice": false, "zero": false}, "axis": null}}},
            {"data": {"values": [{}]}, "mark": {"type": "text", "text": "Favors valganciclovir", "align": "left", "dx": 28},
             "encoding": {"x": {"datum": 1, "type": "quantitative", "scale": {"type": "log", "domain": [0.01, 100], "range": [2529, 3421], "nice": false}},
                          "y": {"datum": 8.25, "type": "quantitative", "scale": {"domain": [-1.9259, 8.7681], "reverse": true, "nice": false, "zero": false}, "axis": null}}}
          ]
        }
      ]
    }
  ]
}
